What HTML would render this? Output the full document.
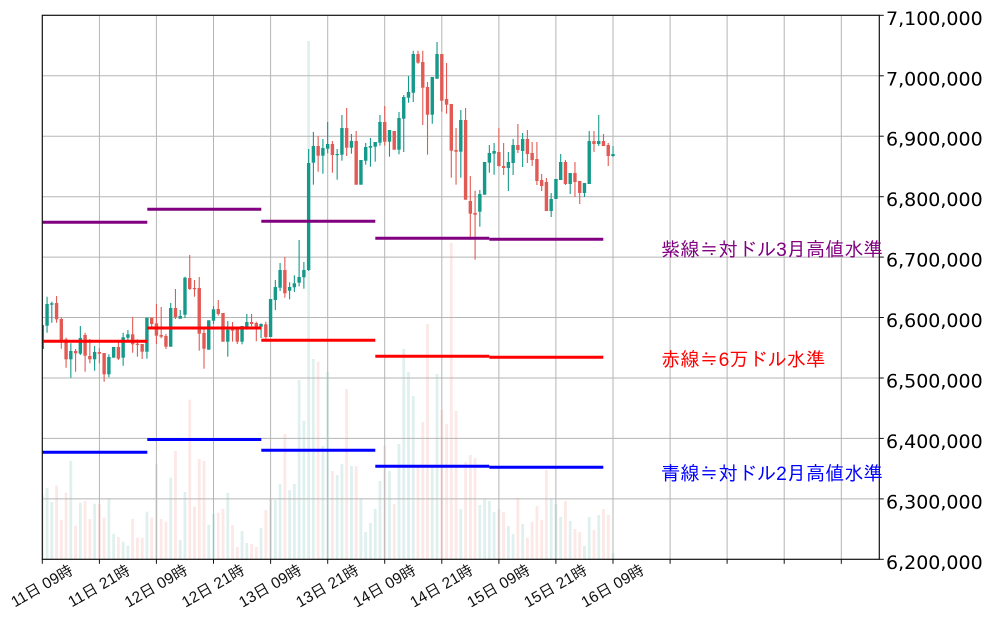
<!DOCTYPE html>
<html><head><meta charset="utf-8">
<style>html,body{margin:0;padding:0;background:#fff;}svg{display:block;}</style>
</head><body>
<svg id="c" width="991" height="621" viewBox="0 0 991 621" xmlns="http://www.w3.org/2000/svg">
<defs><clipPath id="pa"><rect x="42.3" y="15.3" width="837" height="544"/></clipPath></defs>
<rect x="0" y="0" width="991" height="621" fill="#fff"/>
<g id="vol" clip-path="url(#pa)"></g>
<g stroke="#b5b5b5" stroke-width="1">
<line x1="99.4" x2="99.4" y1="15.3" y2="559.3"/>
<line x1="156.4" x2="156.4" y1="15.3" y2="559.3"/>
<line x1="213.5" x2="213.5" y1="15.3" y2="559.3"/>
<line x1="270.6" x2="270.6" y1="15.3" y2="559.3"/>
<line x1="327.7" x2="327.7" y1="15.3" y2="559.3"/>
<line x1="384.7" x2="384.7" y1="15.3" y2="559.3"/>
<line x1="441.8" x2="441.8" y1="15.3" y2="559.3"/>
<line x1="498.9" x2="498.9" y1="15.3" y2="559.3"/>
<line x1="555.9" x2="555.9" y1="15.3" y2="559.3"/>
<line x1="613.0" x2="613.0" y1="15.3" y2="559.3"/>
<line x1="670.1" x2="670.1" y1="15.3" y2="559.3"/>
<line x1="727.1" x2="727.1" y1="15.3" y2="559.3"/>
<line x1="784.2" x2="784.2" y1="15.3" y2="559.3"/>
<line x1="841.3" x2="841.3" y1="15.3" y2="559.3"/>
<line x1="42.3" x2="879.3" y1="498.9" y2="498.9"/>
<line x1="42.3" x2="879.3" y1="438.4" y2="438.4"/>
<line x1="42.3" x2="879.3" y1="378.0" y2="378.0"/>
<line x1="42.3" x2="879.3" y1="317.5" y2="317.5"/>
<line x1="42.3" x2="879.3" y1="257.1" y2="257.1"/>
<line x1="42.3" x2="879.3" y1="196.7" y2="196.7"/>
<line x1="42.3" x2="879.3" y1="136.2" y2="136.2"/>
<line x1="42.3" x2="879.3" y1="75.8" y2="75.8"/>
</g>
<g id="cdl" clip-path="url(#pa)"></g>
<g stroke-width="3" fill="none">
<g stroke="#800080">
<line x1="42.3" x2="147.3" y1="222.3" y2="222.3"/>
<line x1="147.3" x2="261.3" y1="209.3" y2="209.3"/>
<line x1="261.3" x2="375.3" y1="221.3" y2="221.3"/>
<line x1="375.3" x2="489.3" y1="238.3" y2="238.3"/>
<line x1="489.3" x2="603.3" y1="239.3" y2="239.3"/>
</g>
<g stroke="#ff0000">
<line x1="42.3" x2="147.3" y1="341.3" y2="341.3"/>
<line x1="147.3" x2="261.3" y1="328" y2="328"/>
<line x1="261.3" x2="375.3" y1="340.3" y2="340.3"/>
<line x1="375.3" x2="489.3" y1="356.3" y2="356.3"/>
<line x1="489.3" x2="603.3" y1="357.3" y2="357.3"/>
</g>
<g stroke="#0000ff">
<line x1="42.3" x2="147.3" y1="452.3" y2="452.3"/>
<line x1="147.3" x2="261.3" y1="439.5" y2="439.5"/>
<line x1="261.3" x2="375.3" y1="450.3" y2="450.3"/>
<line x1="375.3" x2="489.3" y1="466.3" y2="466.3"/>
<line x1="489.3" x2="603.3" y1="467.3" y2="467.3"/>
</g>
</g>
<rect x="42.3" y="15.3" width="837" height="544" fill="none" stroke="#111" stroke-width="1.2"/>
<g stroke="#111" stroke-width="1">
<line x1="42.3" x2="42.3" y1="559.3" y2="563.8"/>
<line x1="99.4" x2="99.4" y1="559.3" y2="563.8"/>
<line x1="156.4" x2="156.4" y1="559.3" y2="563.8"/>
<line x1="213.5" x2="213.5" y1="559.3" y2="563.8"/>
<line x1="270.6" x2="270.6" y1="559.3" y2="563.8"/>
<line x1="327.7" x2="327.7" y1="559.3" y2="563.8"/>
<line x1="384.7" x2="384.7" y1="559.3" y2="563.8"/>
<line x1="441.8" x2="441.8" y1="559.3" y2="563.8"/>
<line x1="498.9" x2="498.9" y1="559.3" y2="563.8"/>
<line x1="555.9" x2="555.9" y1="559.3" y2="563.8"/>
<line x1="613.0" x2="613.0" y1="559.3" y2="563.8"/>
<line x1="670.1" x2="670.1" y1="559.3" y2="563.8"/>
<line x1="727.1" x2="727.1" y1="559.3" y2="563.8"/>
<line x1="784.2" x2="784.2" y1="559.3" y2="563.8"/>
<line x1="841.3" x2="841.3" y1="559.3" y2="563.8"/>
<line x1="879.3" x2="883.8" y1="559.3" y2="559.3"/>
<line x1="879.3" x2="883.8" y1="498.9" y2="498.9"/>
<line x1="879.3" x2="883.8" y1="438.4" y2="438.4"/>
<line x1="879.3" x2="883.8" y1="378.0" y2="378.0"/>
<line x1="879.3" x2="883.8" y1="317.5" y2="317.5"/>
<line x1="879.3" x2="883.8" y1="257.1" y2="257.1"/>
<line x1="879.3" x2="883.8" y1="196.7" y2="196.7"/>
<line x1="879.3" x2="883.8" y1="136.2" y2="136.2"/>
<line x1="879.3" x2="883.8" y1="75.8" y2="75.8"/>
<line x1="879.3" x2="883.8" y1="15.3" y2="15.3"/>
</g>
<g font-family="'DejaVu Sans', 'Liberation Sans', sans-serif" font-size="19" fill="#000">
<text x="886" y="568.8">6,200,000</text>
<text x="886" y="508.4">6,300,000</text>
<text x="886" y="447.9">6,400,000</text>
<text x="886" y="387.5">6,500,000</text>
<text x="886" y="327.0">6,600,000</text>
<text x="886" y="266.6">6,700,000</text>
<text x="886" y="206.2">6,800,000</text>
<text x="886" y="145.7">6,900,000</text>
<text x="886" y="85.3">7,000,000</text>
<text x="886" y="24.8">7,100,000</text>
</g>
<g font-family="'Liberation Sans', 'IPAGothic', 'Noto Sans CJK JP', sans-serif" font-size="15.5" fill="#111" text-anchor="middle" dominant-baseline="central">
<text x="42.3" y="586.5" transform="rotate(-30 42.3 586.5)">11日 09時</text>
<text x="99.4" y="586.5" transform="rotate(-30 99.4 586.5)">11日 21時</text>
<text x="156.4" y="586.5" transform="rotate(-30 156.4 586.5)">12日 09時</text>
<text x="213.5" y="586.5" transform="rotate(-30 213.5 586.5)">12日 21時</text>
<text x="270.6" y="586.5" transform="rotate(-30 270.6 586.5)">13日 09時</text>
<text x="327.7" y="586.5" transform="rotate(-30 327.7 586.5)">13日 21時</text>
<text x="384.7" y="586.5" transform="rotate(-30 384.7 586.5)">14日 09時</text>
<text x="441.8" y="586.5" transform="rotate(-30 441.8 586.5)">14日 21時</text>
<text x="498.9" y="586.5" transform="rotate(-30 498.9 586.5)">15日 09時</text>
<text x="555.9" y="586.5" transform="rotate(-30 555.9 586.5)">15日 21時</text>
<text x="613.0" y="586.5" transform="rotate(-30 613.0 586.5)">16日 09時</text>
</g>
<g font-family="'Liberation Sans', 'IPAGothic', 'Noto Sans CJK JP', sans-serif" font-size="19.2">
<text x="661" y="256" fill="#800080">紫線≒対ドル3月高値水準</text>
<text x="661" y="366" fill="#ff0000">赤線≒6万ドル水準</text>
<text x="661" y="480" fill="#0000ff">青線≒対ドル2月高値水準</text>
</g>
</svg>
<script>
const D=[
[1,325,349,325,349,495],
[1,304,325.7,296.7,332.7,488],
[1,303.3,304.7,301.7,322.7,502],
[0,303,319.3,296,322.7,485.7],
[0,319,340,317.7,348.7,520],
[0,339.3,359.3,337.7,367.7,492.7],
[1,351,359.3,343.3,377.7,461],
[0,351,353.3,349,371.7,525.7],
[1,338,353.7,326,355,502.7],
[0,335,355.7,332.7,371.7,501],
[0,356,359.3,339,363.3,519],
[1,352,359.3,346,370.7,503.7],
[0,352,353.7,348.3,363.3,504],
[0,353,374.3,353,381.7,517.7],
[1,357,374.3,354.3,377.3,498.3],
[1,347,357.7,347,357.7,533.7],
[0,347,358.7,342,360,537],
[1,337.3,357.7,332.7,365.7,541.7],
[1,334.3,337.7,330,340,545.7],
[0,334.3,344.3,317,352.7,519],
[0,343.7,344.7,339.3,356.7,537.7],
[0,344,351.7,344,359,537.7],
[1,317.7,351.7,317.7,358.7,511.7],
[0,317.7,324,317.7,326.7,517.7],
[0,323.3,335.7,304,344,464],
[0,335,336.7,307,338.3,519],
[0,336,346.7,334,349,521.7],
[1,308,346.7,303,346.7,477.7],
[0,308,317.3,289,319,451],
[1,316,318.7,310,318.7,540],
[1,277.7,314.7,276.7,318,492],
[0,278,289,255,290,399.7],
[0,288,288.7,280,296.7,506.7],
[0,288,333.7,277,350.7,459],
[0,333,348.7,327.3,368.7,461],
[1,320.3,349.7,320.3,349.7,525],
[1,309.3,320.7,306,324,513.7],
[0,309,314,300,315.7,512.7],
[0,313,341.7,313,341.7,509],
[1,329.7,341.7,321,356.7,493],
[0,329.5,330.5,322,341.7,525],
[0,328.3,341.7,328.3,344,547],
[1,326,341.7,326,344.3,531],
[1,322,328.3,314,329.7,543],
[0,322,324,314,326.3,544],
[0,323,329.3,321.7,341.3,547],
[1,324,326.7,323.3,338,528],
[0,324.3,337,321.7,338.7,510],
[1,299,337,299,337,498.7],
[1,287,300,280,310,500],
[1,270,287.7,263,291,484],
[0,270,293.3,257,297.7,434],
[1,287,290.7,282.3,299.3,490],
[1,283.3,287.3,275.3,292,484],
[1,277,282.7,240,286.3,380],
[1,270,277.3,262,288.7,420.7],
[1,163,270,149,271,41],
[1,146,162.7,132,184.7,359],
[0,146,155.7,136,171.7,361.7],
[1,148,155.7,139,173.7,446],
[1,144,148.7,122,153.3,372],
[0,144,155,141,172.7,471],
[1,154,154.7,149,179.7,475],
[1,128,154.7,115,160.7,464],
[0,128,147.7,108,156,389],
[1,141,147.7,134,153.7,466],
[0,141,184.7,131,184.7,466],
[1,160,184.7,160,184.7,498.7],
[1,147,160.7,143,164.7,532],
[1,146,147.7,138,166.7,523],
[1,142,146.7,142,161.7,509],
[1,122,142.7,115,145.7,481],
[0,122,141.7,106,145.7,446],
[1,130,141.7,130,156.7,471],
[0,131,149.7,131,149.7,504],
[1,118,149.7,112,154.3,444],
[1,97,118.7,95,152,349],
[1,92,97.7,76,102.7,372],
[1,54,92.7,50.7,102,396],
[0,54,62.7,50.7,63.7,467],
[0,62,87.7,50.7,125,422],
[0,87,114.7,82,154.7,324],
[1,77,114.7,77,123.7,467],
[1,54,78.7,42,78.7,374],
[0,54,100.7,54,111.7,410],
[0,99,104.7,63,113.7,424],
[0,104,150.7,104,177.7,243],
[0,150,151.7,128,184.7,411],
[1,120,151.7,110,177.7,509],
[0,120,199.7,108,199.7,462],
[0,201,213.7,176,239.7,455],
[0,213,214.7,190.7,259.7,458],
[1,194,211.7,190,226.7,505],
[1,162,194.7,162,194.7,498.7],
[1,153,162.7,145,172.7,501],
[1,151,153.7,143,174.7,512],
[0,152,166,128,166.7,509],
[0,166,168,143,175,512],
[1,162,168,152,191,526],
[1,145,163,139,175,534],
[0,145,150,124,153,498],
[1,139,151,133,167,524],
[0,139,154,130,163,538],
[0,153,160,142,166,522],
[0,159,181,142,185,506],
[0,180,186,174,191,520],
[0,182,211,178,211,470],
[1,199,211,193,217,498.3],
[1,179,199,179,199,504],
[1,162,180,154,180,517],
[0,162,184,160,185,501],
[1,173,184,173,194,521],
[0,173,182,162,197,529],
[0,181,193,181,204,532],
[1,183,193,183,197,546],
[1,141,184,131,184,517],
[0,141,144,131,152,530],
[1,141,144,115,146,515],
[0,141,146,134,146,509],
[0,145,156,143,166,515],
[1,154,156,146,157,553]
];
const X0=42.3, DX=57.07/12;
let v='', c='';
D.forEach((d,i)=>{
  const x=X0+DX*i;
  const col=d[0]?'#14998b':'#e25a54';
  const vc=d[0]?'#dff0ee':'#fce8e6';
  v+=`<rect x="${(x-1.4).toFixed(2)}" y="${d[5]}" width="2.8" height="${(559.3-d[5]).toFixed(2)}" fill="${vc}"/>`;
  c+=`<line x1="${x.toFixed(2)}" x2="${x.toFixed(2)}" y1="${d[3]}" y2="${d[4]}" stroke="${col}" stroke-width="1.1"/>`;
  c+=`<rect x="${(x-1.7).toFixed(2)}" y="${d[1]}" width="3.4" height="${Math.max(d[2]-d[1],1.2).toFixed(2)}" fill="${col}"/>`;
});
document.getElementById('vol').innerHTML=v;
document.getElementById('cdl').innerHTML=c;
</script>
</body></html>
